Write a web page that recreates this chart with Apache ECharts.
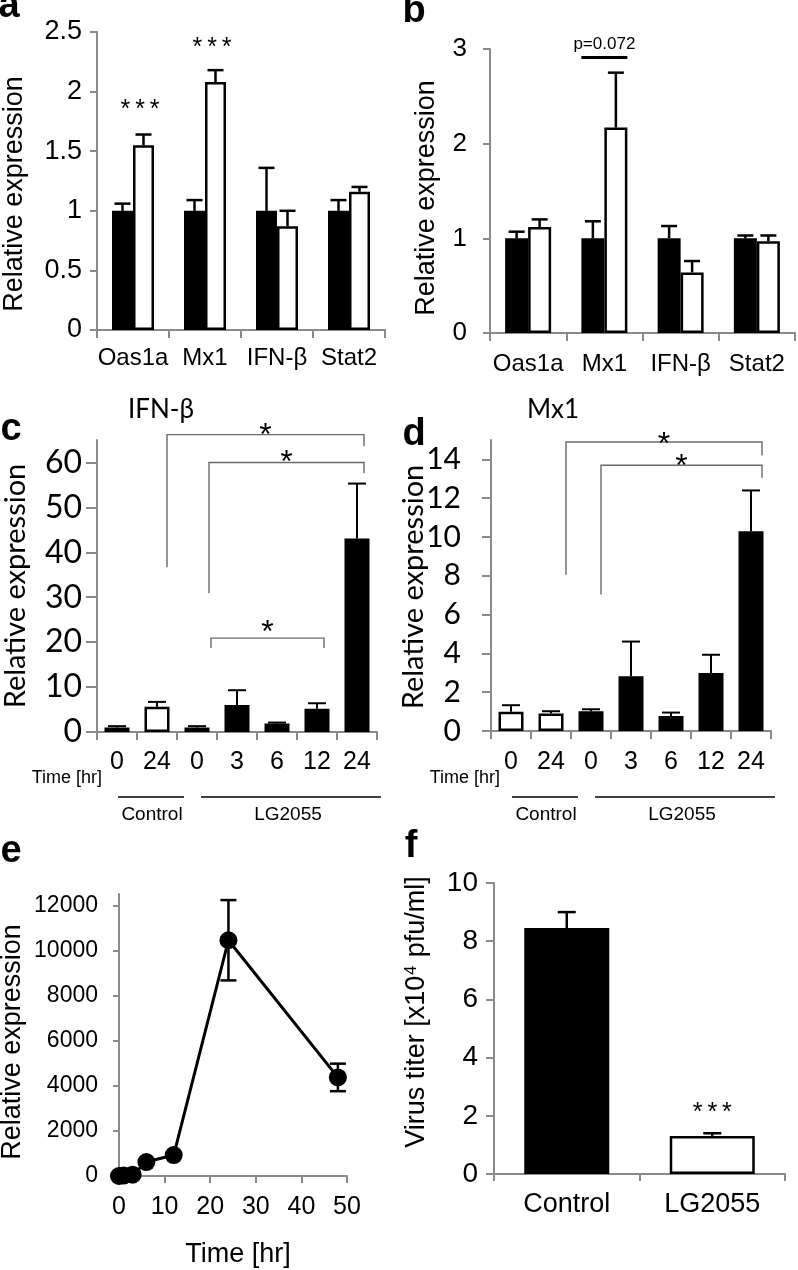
<!DOCTYPE html>
<html><head><meta charset="utf-8">
<script src="https://cdn.jsdelivr.net/npm/echarts@6/dist/echarts.min.js"></script>
<style>html,body{margin:0;padding:0;background:#fff}#c{width:798px;height:1270px}</style>
</head><body><div id="c"></div>
<script>
// ---------- DATA ----------
// Panel a
const genes = ['Oas1a', 'Mx1', 'IFN-β', 'Stat2'];
const aBlack = [1.00, 1.00, 1.00, 1.00];
const aBlackErr = [0.06, 0.09, 0.36, 0.09];
const aWhite = [1.55, 2.08, 0.87, 1.16];
const aWhiteErr = [0.09, 0.10, 0.13, 0.04];
const aTicks = [0, 0.5, 1, 1.5, 2, 2.5];
// Panel b
const bBlack = [1.00, 1.00, 1.00, 1.00];
const bBlackErr = [0.07, 0.18, 0.13, 0.03];
const bWhite = [1.12, 2.17, 0.64, 0.97];
const bWhiteErr = [0.08, 0.58, 0.12, 0.06];
const bTicks = [0, 1, 2, 3];
// Panels c / d
const timeCats = ['0', '24', '0', '3', '6', '12', '24'];
const timeGroup = ['Control', 'Control', 'LG2055', 'LG2055', 'LG2055', 'LG2055', 'LG2055'];
const cValues = [1.0, 5.6, 1.0, 6.0, 1.9, 5.2, 43.1];
const cErr = [0.3, 1.1, 0.3, 3.3, 0.2, 1.2, 12.2];
const cTicks = [0, 10, 20, 30, 40, 50, 60];
const dValues = [0.99, 0.90, 1.02, 2.82, 0.77, 2.99, 10.3];
const dErr = [0.34, 0.12, 0.10, 1.79, 0.18, 0.94, 2.1];
const dTicks = [0, 2, 4, 6, 8, 10, 12, 14];
// Panel e
const eTime = [0, 1, 3, 6, 12, 24, 48];
const eValues = [0, 20, 60, 620, 930, 10450, 4370];
const eErr = [0, 0, 0, 0, 0, 1780, 610];
const eTicks = [0, 2000, 4000, 6000, 8000, 10000, 12000];
// Panel f
const fCats = ['Control', 'LG2055'];
const fValues = [8.45, 1.31];
const fErr = [0.55, 0.09];
const fTicks = [0, 2, 4, 6, 8, 10];

// significance annotations
const STARS3 = '*\u2009*\u2009*';
const aStars = [{cat: 0, value: 1.89, text: STARS3}, {cat: 1, value: 2.41, text: STARS3}];
const bPvalue = {cat: 1, line: 2.91, textValue: 3.05, text: 'p=0.072'};
const cBrackets = [
  {fromCat: 1, fromDx: 10, toCat: 6, toDx: 7, leftLow: 36.7, top: 66.2, rightLow: 63.6, starDy: -5},
  {fromCat: 2, fromDx: 12, toCat: 6, toDx: 7, leftLow: 30.9, top: 60.0, rightLow: 57.6, starDy: -6},
  {fromCat: 2, fromDx: 14, toCat: 5, toDx: 7, leftLow: 18.7, top: 20.9, rightLow: 18.7, starDy: -12}
];
const dBrackets = [
  {fromCat: 1, fromDx: 15, toCat: 6, toDx: 11, leftLow: 8.06, top: 14.9, rightLow: 14.2, starDy: -4},
  {fromCat: 2, fromDx: 10, toCat: 6, toDx: 11, leftLow: 7.04, top: 13.7, rightLow: 13.06, starDy: -5}
];
const fStar = {cat: 1, value: 2.27, text: STARS3};

// ---------- STYLE ----------
const AR = '"Liberation Sans", Arial, Helvetica, sans-serif';
const CA = 'Lato, "Open Sans", sans-serif';
const AX = '#8a8a8a';

const chart = echarts.init(document.getElementById('c'), null, {renderer: 'canvas'});

function xCat(gi, data, fontSize, margin, tickLen) {
  return {
    type: 'category', gridIndex: gi, data: data,
    axisLine: {show: true, lineStyle: {color: AX, width: 2}},
    axisTick: {show: true, length: tickLen, lineStyle: {color: AX, width: 2}},
    axisLabel: {color: '#000', fontFamily: AR, fontSize: fontSize, margin: margin, interval: 0},
    splitLine: {show: false}
  };
}
function yAx(gi, max, interval, vals, fam, fontSize, margin, tickLen) {
  return {
    type: 'value', gridIndex: gi, min: 0, max: max, interval: interval,
    axisLine: {show: true, lineStyle: {color: AX, width: 2}},
    axisTick: {show: true, length: tickLen, lineStyle: {color: AX, width: 2}, customValues: vals},
    axisLabel: {color: '#000', fontFamily: fam, fontSize: fontSize, margin: margin, customValues: vals,
      formatter: function (v) { return vals.indexOf(v) >= 0 ? String(v) : ''; }},
    splitLine: {show: false}
  };
}
function errSeries(gi, vals, errs, offset, capHalf, lw) {
  return {
    type: 'custom', xAxisIndex: gi, yAxisIndex: gi, z: 5, silent: true,
    data: vals.map(function (v, i) { return [i, v, errs[i]]; }),
    encode: {x: 0, y: 1},
    renderItem: function (params, api) {
      const x = api.value(0), v = api.value(1), e = api.value(2);
      if (!e) return null;
      const base = api.coord([x, v]);
      const top = api.coord([x, v + e]);
      const cx = base[0] + offset;
      const st = {stroke: '#000', lineWidth: lw};
      return {type: 'group', children: [
        {type: 'line', shape: {x1: cx, y1: base[1], x2: cx, y2: top[1]}, style: st},
        {type: 'line', shape: {x1: cx - capHalf, y1: top[1], x2: cx + capHalf, y2: top[1]}, style: st}
      ]};
    }
  };
}
function xyErr(gi, xs, vals, errs, capHalf, lw) {
  return {
    type: 'custom', xAxisIndex: gi, yAxisIndex: gi, z: 1, silent: true,
    data: xs.map(function (t, i) { return [t, vals[i], errs[i]]; }),
    encode: {x: 0, y: 1},
    renderItem: function (params, api) {
      const x = api.value(0), v = api.value(1), e = api.value(2);
      if (!e) return null;
      const top = api.coord([x, v + e]), bot = api.coord([x, v - e]);
      const st = {stroke: '#000', lineWidth: lw};
      return {type: 'group', children: [
        {type: 'line', shape: {x1: top[0], y1: bot[1], x2: top[0], y2: top[1]}, style: st},
        {type: 'line', shape: {x1: top[0] - capHalf, y1: top[1], x2: top[0] + capHalf, y2: top[1]}, style: st},
        {type: 'line', shape: {x1: top[0] - capHalf, y1: bot[1], x2: top[0] + capHalf, y2: bot[1]}, style: st}
      ]};
    }
  };
}
const BLACK = {color: '#000', borderColor: '#000', borderWidth: 2.5};
const WHITE = {color: '#fff', borderColor: '#000', borderWidth: 2.5};

const option = {
  animation: false,
  backgroundColor: '#fff',
  grid: [
    {left: 97, top: 32, width: 288, height: 298},
    {left: 490, top: 49, width: 305, height: 284},
    {left: 97, top: 440, width: 280, height: 292},
    {left: 491, top: 440, width: 280, height: 291},
    {left: 119, top: 894, width: 228, height: 282},
    {left: 494, top: 883, width: 291, height: 291}
  ],
  xAxis: [
    xCat(0, genes, 24, 16, 8),
    xCat(1, genes, 24, 19, 8),
    xCat(2, timeCats, 25, 18, 8),
    xCat(3, timeCats, 25, 19, 8),
    {type: 'value', gridIndex: 4, min: 0, max: 50, interval: 10,
      axisLine: {show: true, lineStyle: {color: AX, width: 2}},
      axisTick: {show: true, length: 7, lineStyle: {color: AX, width: 2}},
      axisLabel: {color: '#000', fontFamily: AR, fontSize: 25, margin: 19},
      splitLine: {show: false}},
    xCat(5, fCats, 27, 17, 7)
  ],
  yAxis: [
    yAx(0, 2.5, 0.5, aTicks, AR, 27, 15, 7),
    yAx(1, 3, 1, bTicks, AR, 26, 23, 7),
    yAx(2, 65, 10, cTicks, CA, 32, 15, 11),
    yAx(3, 15, 2, dTicks, CA, 30, 30, 9),
    yAx(4, 12500, 2000, eTicks, AR, 23, 21, 6),
    yAx(5, 10, 2, fTicks, AR, 28, 16, 8)
  ],
  series: [
    {type: 'bar', xAxisIndex: 0, yAxisIndex: 0, data: aBlack, barWidth: 21, barGap: '0%', itemStyle: BLACK},
    {type: 'bar', xAxisIndex: 0, yAxisIndex: 0, data: aWhite, barWidth: 21, barGap: '0%', itemStyle: WHITE},
    errSeries(0, aBlack, aBlackErr, -10.5, 8, 2.5),
    errSeries(0, aWhite, aWhiteErr, 10.5, 8, 2.5),
    {type: 'bar', xAxisIndex: 1, yAxisIndex: 1, data: bBlack, barWidth: 23, barGap: '0%', itemStyle: BLACK},
    {type: 'bar', xAxisIndex: 1, yAxisIndex: 1, data: bWhite, barWidth: 23, barGap: '0%', itemStyle: WHITE},
    errSeries(1, bBlack, bBlackErr, -11.5, 8, 2.5),
    errSeries(1, bWhite, bWhiteErr, 11.5, 8, 2.5),
    {type: 'bar', xAxisIndex: 2, yAxisIndex: 2, barWidth: 25,
      data: cValues.map(function (v, i) { return {value: v, itemStyle: timeGroup[i] === 'Control' ? WHITE : BLACK}; })},
    errSeries(2, cValues, cErr, 0, 9, 2),
    {type: 'bar', xAxisIndex: 3, yAxisIndex: 3, barWidth: 25,
      data: dValues.map(function (v, i) { return {value: v, itemStyle: timeGroup[i] === 'Control' ? WHITE : BLACK}; })},
    errSeries(3, dValues, dErr, 0, 9, 2),
    xyErr(4, eTime, eValues, eErr, 8, 2.5),
    {type: 'line', xAxisIndex: 4, yAxisIndex: 4, z: 3,
      data: eTime.map(function (t, i) { return [t, eValues[i]]; }),
      symbol: 'circle', symbolSize: 18, itemStyle: {color: '#000'}, lineStyle: {color: '#000', width: 3}},
    {type: 'bar', xAxisIndex: 5, yAxisIndex: 5, barWidth: 85,
      data: fValues.map(function (v, i) { return {value: v, itemStyle: i === 0 ? BLACK : WHITE}; })},
    errSeries(5, fValues, fErr, 0, 9, 2.5)
  ]
};
chart.setOption(option);

// ---------- ANNOTATIONS ----------
const g = [];
function px(gi, x, y) { return chart.convertToPixel({gridIndex: gi}, [x, y]); }
function txt(x, y, text, font, extra) {
  return {type: 'text', x: x, y: y, silent: true,
    style: Object.assign({text: text, font: font, fill: '#000', textAlign: 'center', textVerticalAlign: 'middle',
      align: 'center', verticalAlign: 'middle'}, extra || {})};
}
function line(x1, y1, x2, y2, w, c) {
  return {type: 'line', silent: true, shape: {x1: x1, y1: y1, x2: x2, y2: y2}, style: {stroke: c || '#000', lineWidth: w}};
}
function vtitle(x, y, text, font, rich) {
  const el = txt(x, y, text, font, rich ? {rich: rich} : null);
  el.rotation = Math.PI / 2;
  return el;
}
// panel letters
g.push(txt(9, 7, 'a', 'bold 38px ' + AR));
g.push(txt(414, 12, 'b', 'bold 38px ' + AR));
g.push(txt(11, 430, 'c', 'bold 38px ' + AR));
g.push(txt(414, 435, 'd', 'bold 38px ' + AR));
g.push(txt(11, 852, 'e', 'bold 38px ' + AR));
g.push(txt(411, 847, 'f', 'bold 38px ' + AR));
// axis titles
g.push(vtitle(15, 194, 'Relative expression', '27px ' + AR));
g.push(vtitle(427, 198, 'Relative expression', '27px ' + AR));
g.push(vtitle(16, 586, 'Relative expression', '29px ' + CA));
g.push(vtitle(414, 587, 'Relative expression', '29px ' + CA));
g.push(vtitle(13, 1042, 'Relative expression', '27px ' + AR));
g.push(vtitle(417, 1012, 'Virus titer [x10{sup|4} pfu/ml]', '27px ' + AR,
  {sup: {fontSize: 16, fontFamily: '"Liberation Sans", Arial, sans-serif', verticalAlign: 'top', padding: [0, 1, 0, 1]}}));
g.push(txt(238, 1255, 'Time [hr]', '27px ' + AR));
// panel titles
g.push(txt(128, 410, 'IFN-β', '26px ' + CA, {textAlign: 'left', align: 'left'}));
g.push(txt(527, 410, 'Mx1', '26px ' + CA, {textAlign: 'left', align: 'left'}));
// a stars
aStars.forEach(function (s) {
  const p = px(0, s.cat, s.value);
  g.push(txt(p[0] + 7, p[1] + 5, s.text, '25px ' + AR));
});
// b p-value
(function () {
  const p = px(1, bPvalue.cat, bPvalue.line);
  g.push(line(p[0] - 23, p[1], p[0] + 23, p[1], 3));
  const q = px(1, bPvalue.cat, bPvalue.textValue);
  g.push(txt(p[0], q[1], bPvalue.text, '17px ' + AR));
})();
// brackets c, d
function bracket(gi, br) {
  const L = px(gi, br.fromCat, br.leftLow), T = px(gi, br.fromCat, br.top), R = px(gi, br.toCat, br.rightLow);
  const xl = L[0] + br.fromDx, xr = R[0] + br.toDx, yt = T[1];
  g.push({type: 'polyline', silent: true, shape: {points: [[xl, L[1]], [xl, yt], [xr, yt], [xr, R[1]]]},
    style: {stroke: '#6a6a6a', lineWidth: 1.4, fill: null}});
  g.push(txt((xl + xr) / 2, yt + br.starDy + 7, '*', '32px ' + AR));
}
cBrackets.forEach(function (b) { bracket(2, b); });
dBrackets.forEach(function (b) { bracket(3, b); });
// c/d time labels & groups
[[2, 102], [3, 500]].forEach(function (cfg) {
  const gi = cfg[0];
  g.push(txt(cfg[1], 778, 'Time [hr]', '18px ' + AR, {textAlign: 'right', align: 'right'}));
  const c0 = px(gi, 0, 0), c1 = px(gi, 1, 0), c2 = px(gi, 2, 0), c6 = px(gi, 6, 0);
  g.push(line(c0[0] + 1, 797, c1[0] + 27, 797, 1.3));
  g.push(txt((c0[0] + c1[0]) / 2 + 15, 815, 'Control', '19px ' + AR));
  g.push(line(c2[0] + 4, 797, c6[0] + 24, 797, 1.3));
  g.push(txt((c2[0] + c6[0]) / 2 + 11, 815, 'LG2055', '19px ' + AR));
});
// f star
(function () {
  const p = px(5, fStar.cat, fStar.value);
  g.push(txt(p[0], p[1] + 5, fStar.text, '25px ' + AR));
})();

chart.setOption({graphic: {elements: g}});
</script>
</body></html>
